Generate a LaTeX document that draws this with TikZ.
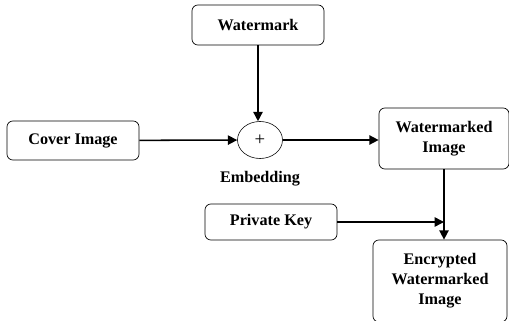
\documentclass[tikz,border=0pt]{standalone}
\usepackage{fontspec}
\setmainfont{Liberation Serif}
\usetikzlibrary{positioning,shapes.geometric,arrows.meta}
\tikzset{box node/.style={rectangle,draw,rounded corners=5pt,line width=0.6pt,align=center,
  font=\bfseries\fontsize{13.8}{17}\selectfont,inner sep=0pt},
  sum node/.style={ellipse,draw,line width=0.5pt,minimum width=1.35cm,minimum height=1.11cm,inner sep=0pt},
  flow/.style={-{Triangle[length=8pt,width=8pt]},line width=1.3pt}}

\begin{document}
\begin{tikzpicture}[x=0.03cm,y=-0.03cm]
   \clip (0,0) rectangle (509,321);
   \useasboundingbox (0,0) rectangle (509,321);
   \node[box node,minimum width=3.96cm,minimum height=1.2cm] (wm) at (258,25) {Watermark};
   \node[box node,minimum width=3.96cm,minimum height=1.17cm] (cover) at (73,140.5) {Cover Image};
   \node[sum node] (sum) at (260,140) {\fontsize{16}{18}\selectfont +};
   \node[font=\bfseries\fontsize{13.8}{16}\selectfont] (emb) [below = 0.25cm of sum] {Embedding};
   \node[box node,minimum width=3.9cm,minimum height=1.83cm] (wmi) at (444,138.5) {Watermarked\\Image};
   \node[box node,minimum width=3.96cm,minimum height=1.08cm] (pk) at (271,222) {Private Key};
   \node[box node,minimum width=4.02cm,minimum height=2.46cm] (enc) at (440,281) {Encrypted\\Watermarked\\Image};

    \draw[flow] (wm) -- (wm.south |- sum.north);
    \draw[flow] (cover) -- (sum);
    \draw[flow] (sum) -- (sum -| wmi.west);
    \draw[flow] (wmi.south) -- (wmi.south |- enc.north);
    \draw[flow] (pk) -- (pk -| wmi.south);
  \end{tikzpicture}
\end{document}
